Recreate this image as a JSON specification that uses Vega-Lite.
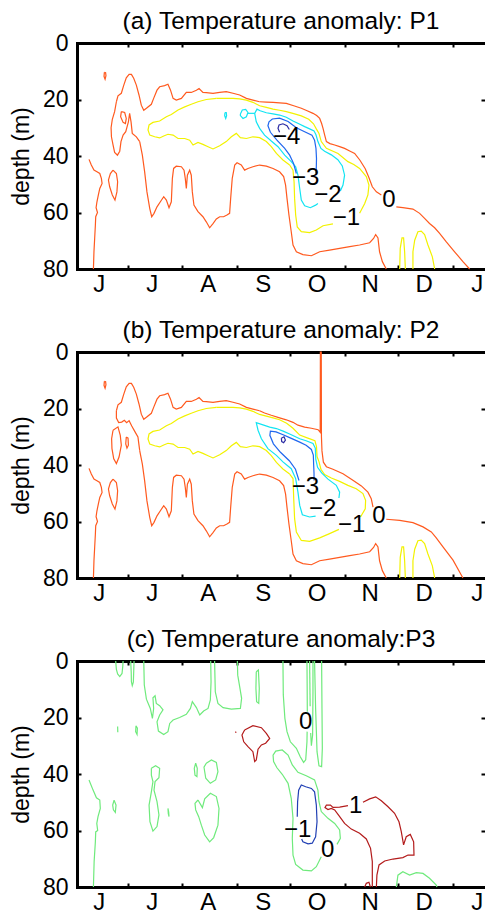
{
  "$schema": "https://vega.github.io/schema/vega-lite/v6.json",
  "padding": {"left": 10, "top": 8, "right": 0, "bottom": 0},
  "bounds": "flush",
  "spacing": 83,
  "config": {
    "font": "Liberation Sans",
    "view": {"stroke": null},
    "axis": {
      "grid": false,
      "domainColor": "#000",
      "domainWidth": 3,
      "domainCap": "square",
      "tickColor": "#000",
      "tickWidth": 2,
      "tickSize": -4,
      "labelColor": "#000",
      "labelFontSize": 23,
      "labelFlush": false,
      "labelOverlap": false,
      "labelBound": false,
      "titleColor": "#000",
      "titleFontSize": 23,
      "titleFontWeight": "normal"
    },
    "title": {"fontSize": 24.5, "fontWeight": "normal", "color": "#000", "anchor": "middle", "offset": -2}
  },
  "datasets": {
    "lines": [
      {"p":"ab","g":"L0","c":"0","x":8.1,"y":41.2},{"p":"ab","g":"L0","c":"0","x":9.4,"y":43.2},{"p":"ab","g":"L0","c":"0","x":10.9,"y":45.0},{"p":"ab","g":"L0","c":"0","x":12.6,"y":45.6},{"p":"ab","g":"L0","c":"0","x":14.2,"y":46.2},{"p":"ab","g":"L0","c":"0","x":15.1,"y":47.9},{"p":"ab","g":"L0","c":"0","x":15.5,"y":49.7},{"p":"ab","g":"L0","c":"0","x":14.2,"y":51.5},{"p":"ab","g":"L0","c":"0","x":13.4,"y":53.8},{"p":"ab","g":"L0","c":"0","x":12.6,"y":56.2},{"p":"ab","g":"L0","c":"0","x":12.1,"y":58.3},{"p":"ab","g":"L0","c":"0","x":12.9,"y":60.0},{"p":"ab","g":"L0","c":"0","x":11.9,"y":61.5},{"p":"ab","g":"L0","c":"0","x":11.7,"y":64.5},{"p":"ab","g":"L0","c":"0","x":11.3,"y":69.2},{"p":"ab","g":"L0","c":"0","x":10.9,"y":73.9},{"p":"ab","g":"L0","c":"0","x":10.6,"y":80},
      {"p":"ab","g":"L1","c":"0","x":16.8,"y":10.4},{"p":"ab","g":"L1","c":"0","x":17.5,"y":10.5},{"p":"ab","g":"L1","c":"0","x":17.7,"y":11.6},{"p":"ab","g":"L1","c":"0","x":17.2,"y":12.8},{"p":"ab","g":"L1","c":"0","x":16.6,"y":11.8},{"p":"ab","g":"L1","c":"0","x":16.8,"y":10.4},
      {"p":"ab","g":"L2","c":"0","x":21.7,"y":45.0},{"p":"ab","g":"L2","c":"0","x":23.6,"y":46.2},{"p":"ab","g":"L2","c":"0","x":24.3,"y":49.1},{"p":"ab","g":"L2","c":"0","x":23.9,"y":52.7},{"p":"ab","g":"L2","c":"0","x":22.8,"y":55.6},{"p":"ab","g":"L2","c":"0","x":21.3,"y":53.8},{"p":"ab","g":"L2","c":"0","x":19.8,"y":50.9},{"p":"ab","g":"L2","c":"0","x":19.1,"y":48.5},{"p":"ab","g":"L2","c":"0","x":20.2,"y":46.2},{"p":"ab","g":"L2","c":"0","x":21.7,"y":45.0},
      {"p":"ab","g":"Os1","c":"0","x":104.7,"y":20.8},{"p":"ab","g":"Os1","c":"0","x":100.9,"y":20.2},{"p":"ab","g":"Os1","c":"0","x":97.2,"y":19.6},{"p":"ab","g":"Os1","c":"0","x":93.4,"y":18.4},{"p":"ab","g":"Os1","c":"0","x":89.6,"y":17.8},{"p":"ab","g":"Os1","c":"0","x":85.8,"y":17.2},{"p":"ab","g":"Os1","c":"0","x":82.1,"y":17.5},{"p":"ab","g":"Os1","c":"0","x":78.3,"y":17.8},{"p":"ab","g":"Os1","c":"0","x":74.5,"y":17.6},{"p":"ab","g":"Os1","c":"0","x":72.6,"y":17.5},{"p":"ab","g":"Os1","c":"0","x":70.4,"y":16.1},{"p":"ab","g":"Os1","c":"0","x":68.9,"y":16.7},{"p":"ab","g":"Os1","c":"0","x":66.0,"y":17.5},{"p":"ab","g":"Os1","c":"0","x":63.2,"y":17.5},{"p":"ab","g":"Os1","c":"0","x":60.4,"y":19.6},{"p":"ab","g":"Os1","c":"0","x":57.5,"y":20.2},{"p":"ab","g":"Os1","c":"0","x":55.7,"y":19.6},{"p":"ab","g":"Os1","c":"0","x":54.2,"y":16.6},{"p":"ab","g":"Os1","c":"0","x":52.8,"y":14.6},{"p":"ab","g":"Os1","c":"0","x":50.9,"y":15.1},{"p":"ab","g":"Os1","c":"0","x":48.1,"y":15.5},{"p":"ab","g":"Os1","c":"0","x":46.6,"y":16.7},{"p":"ab","g":"Os1","c":"0","x":44.7,"y":19.6},{"p":"ab","g":"Os1","c":"0","x":43.4,"y":21.7},{"p":"ab","g":"Os1","c":"0","x":40.6,"y":23.1},{"p":"ab","g":"Os1","c":"0","x":39.1,"y":23.8},{"p":"ab","g":"Os1","c":"0","x":37.7,"y":22.0},{"p":"ab","g":"Os1","c":"0","x":36.4,"y":18.4},{"p":"ab","g":"Os1","c":"0","x":34.9,"y":14.9},{"p":"ab","g":"Os1","c":"0","x":33.4,"y":12.5},{"p":"ab","g":"Os1","c":"0","x":32.1,"y":11.1},{"p":"ab","g":"Os1","c":"0","x":30.8,"y":11.1},{"p":"ab","g":"Os1","c":"0","x":29.2,"y":12.3},{"p":"ab","g":"Os1","c":"0","x":27.7,"y":15.1},{"p":"ab","g":"Os1","c":"0","x":26.4,"y":17.8},{"p":"ab","g":"Os1","c":"0","x":24.5,"y":18.7},{"p":"ab","g":"Os1","c":"0","x":23.6,"y":20.8},
      {"p":"ab","g":"Os2","c":"0","x":36.8,"y":34.9},{"p":"ab","g":"Os2","c":"0","x":38.3,"y":39.7},{"p":"ab","g":"Os2","c":"0","x":39.6,"y":45.6},{"p":"ab","g":"Os2","c":"0","x":40.9,"y":52.7},{"p":"ab","g":"Os2","c":"0","x":42.5,"y":58.6},{"p":"ab","g":"Os2","c":"0","x":43.6,"y":61.5},{"p":"ab","g":"Os2","c":"0","x":44.9,"y":60.3},{"p":"ab","g":"Os2","c":"0","x":46.6,"y":58.0},{"p":"ab","g":"Os2","c":"0","x":48.5,"y":56.2},{"p":"ab","g":"Os2","c":"0","x":50.4,"y":54.4},{"p":"ab","g":"Os2","c":"0","x":51.9,"y":55.6},{"p":"ab","g":"Os2","c":"0","x":53.4,"y":58.3},{"p":"ab","g":"Os2","c":"0","x":54.7,"y":56.2},{"p":"ab","g":"Os2","c":"0","x":55.3,"y":47.9},{"p":"ab","g":"Os2","c":"0","x":56.0,"y":44.4},{"p":"ab","g":"Os2","c":"0","x":57.5,"y":43.6},{"p":"ab","g":"Os2","c":"0","x":60.4,"y":43.8},{"p":"ab","g":"Os2","c":"0","x":61.9,"y":45.0},{"p":"ab","g":"Os2","c":"0","x":62.6,"y":47.9},{"p":"ab","g":"Os2","c":"0","x":63.2,"y":51.5},{"p":"ab","g":"Os2","c":"0","x":63.8,"y":46.8},{"p":"ab","g":"Os2","c":"0","x":65.1,"y":45.0},{"p":"ab","g":"Os2","c":"0","x":66.0,"y":46.8},{"p":"ab","g":"Os2","c":"0","x":66.6,"y":52.7},{"p":"ab","g":"Os2","c":"0","x":67.5,"y":57.4},{"p":"ab","g":"Os2","c":"0","x":69.8,"y":59.7},{"p":"ab","g":"Os2","c":"0","x":72.6,"y":61.5},{"p":"ab","g":"Os2","c":"0","x":74.5,"y":63.3},{"p":"ab","g":"Os2","c":"0","x":76.4,"y":65.4},{"p":"ab","g":"Os2","c":"0","x":78.3,"y":63.9},{"p":"ab","g":"Os2","c":"0","x":80.2,"y":62.3},{"p":"ab","g":"Os2","c":"0","x":82.1,"y":61.5},{"p":"ab","g":"Os2","c":"0","x":84.3,"y":61.5},{"p":"ab","g":"Os2","c":"0","x":86.2,"y":60.9},{"p":"ab","g":"Os2","c":"0","x":87.7,"y":60.3},{"p":"ab","g":"Os2","c":"0","x":88.3,"y":55.0},{"p":"ab","g":"Os2","c":"0","x":89.2,"y":47.9},{"p":"ab","g":"Os2","c":"0","x":90.6,"y":43.2},{"p":"ab","g":"Os2","c":"0","x":91.9,"y":42.4},{"p":"ab","g":"Os2","c":"0","x":94.3,"y":43.2},{"p":"ab","g":"Os2","c":"0","x":96.2,"y":45.0},{"p":"ab","g":"Os2","c":"0","x":98.1,"y":44.4},{"p":"ab","g":"Os2","c":"0","x":100.9,"y":43.8},{"p":"ab","g":"Os2","c":"0","x":104.7,"y":43.2},{"p":"ab","g":"Os2","c":"0","x":108.5,"y":43.6},{"p":"ab","g":"Os2","c":"0","x":112.3,"y":44.4},{"p":"ab","g":"Os2","c":"0","x":116.0,"y":45.6},{"p":"ab","g":"Os2","c":"0","x":118.3,"y":47.3},{"p":"ab","g":"Os2","c":"0","x":119.4,"y":50.3},{"p":"ab","g":"Os2","c":"0","x":120.2,"y":55.0},{"p":"ab","g":"Os2","c":"0","x":121.3,"y":60.9},{"p":"ab","g":"Os2","c":"0","x":122.6,"y":66.8},{"p":"ab","g":"Os2","c":"0","x":123.6,"y":71.5},{"p":"ab","g":"Os2","c":"0","x":125.5,"y":73.9},{"p":"ab","g":"Os2","c":"0","x":129.2,"y":74.9},{"p":"ab","g":"Os2","c":"0","x":134.0,"y":75.3},{"p":"ab","g":"Os2","c":"0","x":138.7,"y":73.9},{"p":"ab","g":"Os2","c":"0","x":144.3,"y":73.3},{"p":"ab","g":"Os2","c":"0","x":150.0,"y":72.7},{"p":"ab","g":"Os2","c":"0","x":155.7,"y":72.1},{"p":"ab","g":"Os2","c":"0","x":161.3,"y":71.5},{"p":"ab","g":"Os2","c":"0","x":167.0,"y":70.7},{"p":"ab","g":"Os2","c":"0","x":169.2,"y":69.2},{"p":"ab","g":"Os2","c":"0","x":170.4,"y":67.8},{"p":"ab","g":"Os2","c":"0","x":171.7,"y":69.0},{"p":"ab","g":"Os2","c":"0","x":172.6,"y":73.9},{"p":"ab","g":"Os2","c":"0","x":174.2,"y":77.4},{"p":"ab","g":"Os2","c":"0","x":176.4,"y":80},
      {"p":"ab","g":"Ys","c":"-1","x":80.2,"y":19.6},{"p":"ab","g":"Ys","c":"-1","x":74.5,"y":20.0},{"p":"ab","g":"Ys","c":"-1","x":69.8,"y":20.8},{"p":"ab","g":"Ys","c":"-1","x":66.0,"y":21.7},{"p":"ab","g":"Ys","c":"-1","x":62.3,"y":22.6},{"p":"ab","g":"Ys","c":"-1","x":58.5,"y":23.7},{"p":"ab","g":"Ys","c":"-1","x":54.7,"y":25.3},{"p":"ab","g":"Ys","c":"-1","x":51.9,"y":26.1},{"p":"ab","g":"Ys","c":"-1","x":48.1,"y":27.6},{"p":"ab","g":"Ys","c":"-1","x":44.3,"y":28.1},{"p":"ab","g":"Ys","c":"-1","x":42.1,"y":29.0},{"p":"ab","g":"Ys","c":"-1","x":41.5,"y":30.8},{"p":"ab","g":"Ys","c":"-1","x":42.5,"y":32.6},{"p":"ab","g":"Ys","c":"-1","x":45.3,"y":33.2},{"p":"ab","g":"Ys","c":"-1","x":48.1,"y":33.6},{"p":"ab","g":"Ys","c":"-1","x":50.4,"y":32.9},{"p":"ab","g":"Ys","c":"-1","x":52.8,"y":32.3},{"p":"ab","g":"Ys","c":"-1","x":55.7,"y":32.6},{"p":"ab","g":"Ys","c":"-1","x":58.5,"y":33.8},{"p":"ab","g":"Ys","c":"-1","x":62.3,"y":33.8},{"p":"ab","g":"Ys","c":"-1","x":65.1,"y":34.4},{"p":"ab","g":"Ys","c":"-1","x":67.0,"y":36.1},{"p":"ab","g":"Ys","c":"-1","x":69.8,"y":35.2},{"p":"ab","g":"Ys","c":"-1","x":72.6,"y":35.9},{"p":"ab","g":"Ys","c":"-1","x":75.5,"y":36.7},{"p":"ab","g":"Ys","c":"-1","x":78.3,"y":37.5},{"p":"ab","g":"Ys","c":"-1","x":82.1,"y":36.4},{"p":"ab","g":"Ys","c":"-1","x":85.8,"y":34.9},{"p":"ab","g":"Ys","c":"-1","x":88.7,"y":33.2},{"p":"ab","g":"Ys","c":"-1","x":91.5,"y":32.0},{"p":"ab","g":"Ys","c":"-1","x":93.8,"y":33.5},{"p":"ab","g":"Ys","c":"-1","x":97.2,"y":33.8},{"p":"ab","g":"Ys","c":"-1","x":100.9,"y":33.2},{"p":"ab","g":"Ys","c":"-1","x":104.7,"y":33.5},{"p":"ab","g":"Ys","c":"-1","x":108.5,"y":34.9},{"p":"ab","g":"Ys","c":"-1","x":111.3,"y":36.7},{"p":"ab","g":"Ys","c":"-1","x":114.2,"y":39.1},{"p":"ab","g":"Ys","c":"-1","x":117.9,"y":41.4},{"p":"ab","g":"Ys","c":"-1","x":121.7,"y":43.2},
      {"p":"ab","g":"Y2","c":"-1","x":184.0,"y":80},{"p":"ab","g":"Y2","c":"-1","x":184.3,"y":72.7},{"p":"ab","g":"Y2","c":"-1","x":185.3,"y":69.0},{"p":"ab","g":"Y2","c":"-1","x":186.2,"y":69.0},{"p":"ab","g":"Y2","c":"-1","x":186.8,"y":73.9},{"p":"ab","g":"Y2","c":"-1","x":187.2,"y":80},
      {"p":"ab","g":"Y3","c":"-1","x":191.5,"y":80},{"p":"ab","g":"Y3","c":"-1","x":191.5,"y":73.9},{"p":"ab","g":"Y3","c":"-1","x":192.5,"y":69.8},{"p":"ab","g":"Y3","c":"-1","x":194.3,"y":66.8},{"p":"ab","g":"Y3","c":"-1","x":196.2,"y":66.6},{"p":"ab","g":"Y3","c":"-1","x":198.1,"y":67.8},{"p":"ab","g":"Y3","c":"-1","x":200.0,"y":71.5},{"p":"ab","g":"Y3","c":"-1","x":202.5,"y":75.7},{"p":"ab","g":"Y3","c":"-1","x":203.8,"y":80},

      {"p":"a","g":"aL","c":"0","x":26.4,"y":24.3},{"p":"a","g":"aL","c":"0","x":28.3,"y":24.6},{"p":"a","g":"aL","c":"0","x":29.2,"y":26.7},{"p":"a","g":"aL","c":"0","x":28.7,"y":28.5},{"p":"a","g":"aL","c":"0","x":27.4,"y":28.1},{"p":"a","g":"aL","c":"0","x":26.0,"y":26.1},{"p":"a","g":"aL","c":"0","x":26.4,"y":24.3},
      {"p":"a","g":"aLd","c":"0","x":23.6,"y":20.8},{"p":"a","g":"aLd","c":"0","x":22.6,"y":24.3},{"p":"a","g":"aLd","c":"0","x":21.3,"y":27.0},{"p":"a","g":"aLd","c":"0","x":20.6,"y":30.0},{"p":"a","g":"aLd","c":"0","x":20.8,"y":33.2},{"p":"a","g":"aLd","c":"0","x":21.7,"y":36.1},{"p":"a","g":"aLd","c":"0","x":22.6,"y":38.7},{"p":"a","g":"aLd","c":"0","x":24.2,"y":39.7},{"p":"a","g":"aLd","c":"0","x":25.5,"y":38.3},{"p":"a","g":"aLd","c":"0","x":26.2,"y":34.9},{"p":"a","g":"aLd","c":"0","x":27.4,"y":32.6},{"p":"a","g":"aLd","c":"0","x":28.9,"y":31.4},{"p":"a","g":"aLd","c":"0","x":30.4,"y":27.9},{"p":"a","g":"aLd","c":"0","x":31.1,"y":24.9},{"p":"a","g":"aLd","c":"0","x":31.9,"y":27.9},{"p":"a","g":"aLd","c":"0","x":32.6,"y":32.0},{"p":"a","g":"aLd","c":"0","x":34.9,"y":33.2},{"p":"a","g":"aLd","c":"0","x":36.8,"y":34.9},
      {"p":"a","g":"aO1","c":"0","x":104.7,"y":20.8},{"p":"a","g":"aO1","c":"0","x":108.5,"y":20.9},{"p":"a","g":"aO1","c":"0","x":112.3,"y":21.0},{"p":"a","g":"aO1","c":"0","x":116.0,"y":21.2},{"p":"a","g":"aO1","c":"0","x":119.8,"y":21.4},{"p":"a","g":"aO1","c":"0","x":124.0,"y":22.2},{"p":"a","g":"aO1","c":"0","x":128.3,"y":23.1},{"p":"a","g":"aO1","c":"0","x":131.6,"y":24.0},{"p":"a","g":"aO1","c":"0","x":134.9,"y":24.9},{"p":"a","g":"aO1","c":"0","x":137.0,"y":25.7},{"p":"a","g":"aO1","c":"0","x":138.7,"y":26.7},{"p":"a","g":"aO1","c":"0","x":139.8,"y":28.5},{"p":"a","g":"aO1","c":"0","x":140.6,"y":30.2},{"p":"a","g":"aO1","c":"0","x":141.5,"y":32.5},{"p":"a","g":"aO1","c":"0","x":142.5,"y":34.9},{"p":"a","g":"aO1","c":"0","x":144.5,"y":35.6},{"p":"a","g":"aO1","c":"0","x":147.2,"y":36.1},{"p":"a","g":"aO1","c":"0","x":150.0,"y":36.7},{"p":"a","g":"aO1","c":"0","x":152.8,"y":37.3},{"p":"a","g":"aO1","c":"0","x":155.7,"y":38.2},{"p":"a","g":"aO1","c":"0","x":158.5,"y":39.1},{"p":"a","g":"aO1","c":"0","x":161.5,"y":41.5},{"p":"a","g":"aO1","c":"0","x":164.5,"y":44.5},{"p":"a","g":"aO1","c":"0","x":166.5,"y":47.5},{"p":"a","g":"aO1","c":"0","x":168.5,"y":50.9},{"p":"a","g":"aO1","c":"0","x":170.8,"y":52.7},{"p":"a","g":"aO1","c":"0","x":173.6,"y":53.8},
      {"p":"a","g":"aO2","c":"0","x":182.1,"y":58.0},{"p":"a","g":"aO2","c":"0","x":185.8,"y":58.3},{"p":"a","g":"aO2","c":"0","x":191.5,"y":58.8},{"p":"a","g":"aO2","c":"0","x":195.3,"y":60.3},{"p":"a","g":"aO2","c":"0","x":198.1,"y":62.1},{"p":"a","g":"aO2","c":"0","x":200.9,"y":63.9},{"p":"a","g":"aO2","c":"0","x":203.8,"y":65.4},{"p":"a","g":"aO2","c":"0","x":206.6,"y":67.4},{"p":"a","g":"aO2","c":"0","x":210.4,"y":70.4},{"p":"a","g":"aO2","c":"0","x":215.1,"y":73.9},{"p":"a","g":"aO2","c":"0","x":219.8,"y":77.4},{"p":"a","g":"aO2","c":"0","x":223.6,"y":80},
      {"p":"a","g":"aY1","c":"-1","x":161.3,"y":60.3},{"p":"a","g":"aY1","c":"-1","x":164.2,"y":56.8},{"p":"a","g":"aY1","c":"-1","x":166.0,"y":53.8},{"p":"a","g":"aY1","c":"-1","x":166.6,"y":50.3},{"p":"a","g":"aY1","c":"-1","x":165.1,"y":47.3},{"p":"a","g":"aY1","c":"-1","x":161.3,"y":44.4},{"p":"a","g":"aY1","c":"-1","x":158.0,"y":43.0},{"p":"a","g":"aY1","c":"-1","x":154.7,"y":42.0},{"p":"a","g":"aY1","c":"-1","x":149.1,"y":39.1},{"p":"a","g":"aY1","c":"-1","x":142.5,"y":37.3},{"p":"a","g":"aY1","c":"-1","x":139.6,"y":34.9},{"p":"a","g":"aY1","c":"-1","x":138.3,"y":32.0},{"p":"a","g":"aY1","c":"-1","x":136.8,"y":30.4},{"p":"a","g":"aY1","c":"-1","x":135.2,"y":28.6},{"p":"a","g":"aY1","c":"-1","x":132.5,"y":27.0},{"p":"a","g":"aY1","c":"-1","x":128.3,"y":25.8},{"p":"a","g":"aY1","c":"-1","x":124.0,"y":25.0},{"p":"a","g":"aY1","c":"-1","x":119.8,"y":24.3},{"p":"a","g":"aY1","c":"-1","x":116.0,"y":23.8},{"p":"a","g":"aY1","c":"-1","x":112.3,"y":23.4},{"p":"a","g":"aY1","c":"-1","x":108.5,"y":22.8},{"p":"a","g":"aY1","c":"-1","x":104.7,"y":22.2},{"p":"a","g":"aY1","c":"-1","x":100.9,"y":21.0},{"p":"a","g":"aY1","c":"-1","x":97.2,"y":20.2},{"p":"a","g":"aY1","c":"-1","x":93.4,"y":19.8},{"p":"a","g":"aY1","c":"-1","x":89.6,"y":19.6},{"p":"a","g":"aY1","c":"-1","x":85.8,"y":19.6},{"p":"a","g":"aY1","c":"-1","x":80.2,"y":19.6},
      {"p":"a","g":"aY2","c":"-1","x":121.7,"y":43.2},{"p":"a","g":"aY2","c":"-1","x":123.6,"y":45.0},{"p":"a","g":"aY2","c":"-1","x":124.2,"y":49.1},{"p":"a","g":"aY2","c":"-1","x":124.5,"y":55.0},{"p":"a","g":"aY2","c":"-1","x":125.1,"y":60.9},{"p":"a","g":"aY2","c":"-1","x":126.0,"y":65.1},{"p":"a","g":"aY2","c":"-1","x":128.3,"y":66.8},{"p":"a","g":"aY2","c":"-1","x":133.0,"y":67.1},{"p":"a","g":"aY2","c":"-1","x":136.8,"y":66.2},{"p":"a","g":"aY2","c":"-1","x":140.6,"y":64.7},{"p":"a","g":"aY2","c":"-1","x":146.2,"y":64.0},
      {"p":"a","g":"aC1","c":"-2","x":85.1,"y":24.6},{"p":"a","g":"aC1","c":"-2","x":85.8,"y":24.6},{"p":"a","g":"aC1","c":"-2","x":86.0,"y":25.7},{"p":"a","g":"aC1","c":"-2","x":85.5,"y":26.7},{"p":"a","g":"aC1","c":"-2","x":84.9,"y":25.7},{"p":"a","g":"aC1","c":"-2","x":85.1,"y":24.6},
      {"p":"a","g":"aC2","c":"-2","x":93.8,"y":25.1},{"p":"a","g":"aC2","c":"-2","x":94.9,"y":23.7},{"p":"a","g":"aC2","c":"-2","x":96.8,"y":23.5},{"p":"a","g":"aC2","c":"-2","x":98.1,"y":24.6},{"p":"a","g":"aC2","c":"-2","x":97.2,"y":26.1},{"p":"a","g":"aC2","c":"-2","x":95.3,"y":26.7},{"p":"a","g":"aC2","c":"-2","x":93.8,"y":25.7},{"p":"a","g":"aC2","c":"-2","x":93.8,"y":25.1},
      {"p":"a","g":"aC3","c":"-2","x":98.1,"y":24.9},{"p":"a","g":"aC3","c":"-2","x":101.9,"y":24.9},
      {"p":"a","g":"aC4","c":"-2","x":150.4,"y":52.4},{"p":"a","g":"aC4","c":"-2","x":151.9,"y":50.3},{"p":"a","g":"aC4","c":"-2","x":152.8,"y":46.8},{"p":"a","g":"aC4","c":"-2","x":151.5,"y":43.5},{"p":"a","g":"aC4","c":"-2","x":149.0,"y":41.3},{"p":"a","g":"aC4","c":"-2","x":145.3,"y":39.6},{"p":"a","g":"aC4","c":"-2","x":141.5,"y":38.3},{"p":"a","g":"aC4","c":"-2","x":139.4,"y":37.3},{"p":"a","g":"aC4","c":"-2","x":137.7,"y":34.9},{"p":"a","g":"aC4","c":"-2","x":136.6,"y":32.5},{"p":"a","g":"aC4","c":"-2","x":135.5,"y":31.1},{"p":"a","g":"aC4","c":"-2","x":133.0,"y":30.4},{"p":"a","g":"aC4","c":"-2","x":130.2,"y":29.6},{"p":"a","g":"aC4","c":"-2","x":126.9,"y":28.6},{"p":"a","g":"aC4","c":"-2","x":123.6,"y":27.6},{"p":"a","g":"aC4","c":"-2","x":119.8,"y":26.3},{"p":"a","g":"aC4","c":"-2","x":116.0,"y":25.5},{"p":"a","g":"aC4","c":"-2","x":112.3,"y":25.1},{"p":"a","g":"aC4","c":"-2","x":108.5,"y":24.7},{"p":"a","g":"aC4","c":"-2","x":105.0,"y":24.0},{"p":"a","g":"aC4","c":"-2","x":103.2,"y":23.4},{"p":"a","g":"aC4","c":"-2","x":101.9,"y":24.9},{"p":"a","g":"aC4","c":"-2","x":102.8,"y":27.9},{"p":"a","g":"aC4","c":"-2","x":104.7,"y":30.2},{"p":"a","g":"aC4","c":"-2","x":107.5,"y":32.6},{"p":"a","g":"aC4","c":"-2","x":111.3,"y":34.7},{"p":"a","g":"aC4","c":"-2","x":115.1,"y":36.7},{"p":"a","g":"aC4","c":"-2","x":118.9,"y":39.7},{"p":"a","g":"aC4","c":"-2","x":122.6,"y":42.0},{"p":"a","g":"aC4","c":"-2","x":125.1,"y":43.8},{"p":"a","g":"aC4","c":"-2","x":126.4,"y":46.8},{"p":"a","g":"aC4","c":"-2","x":127.4,"y":51.5},{"p":"a","g":"aC4","c":"-2","x":128.3,"y":55.6},{"p":"a","g":"aC4","c":"-2","x":130.2,"y":57.6},{"p":"a","g":"aC4","c":"-2","x":133.4,"y":58.3},{"p":"a","g":"aC4","c":"-2","x":136.4,"y":57.4},{"p":"a","g":"aC4","c":"-2","x":137.7,"y":56.8},
      {"p":"a","g":"aB1","c":"-3","x":125.5,"y":46.2},{"p":"a","g":"aB1","c":"-3","x":123.9,"y":42.6},{"p":"a","g":"aB1","c":"-3","x":121.7,"y":39.7},{"p":"a","g":"aB1","c":"-3","x":118.9,"y":37.3},{"p":"a","g":"aB1","c":"-3","x":114.5,"y":34.4},{"p":"a","g":"aB1","c":"-3","x":110.8,"y":31.6},{"p":"a","g":"aB1","c":"-3","x":109.4,"y":29.3},{"p":"a","g":"aB1","c":"-3","x":110.0,"y":27.9},{"p":"a","g":"aB1","c":"-3","x":111.9,"y":26.9},{"p":"a","g":"aB1","c":"-3","x":116.0,"y":26.6},{"p":"a","g":"aB1","c":"-3","x":120.8,"y":27.8},{"p":"a","g":"aB1","c":"-3","x":125.5,"y":30.0},{"p":"a","g":"aB1","c":"-3","x":130.2,"y":31.4},{"p":"a","g":"aB1","c":"-3","x":134.3,"y":32.6},{"p":"a","g":"aB1","c":"-3","x":135.8,"y":34.4},{"p":"a","g":"aB1","c":"-3","x":136.6,"y":37.3},{"p":"a","g":"aB1","c":"-3","x":136.9,"y":40.9},{"p":"a","g":"aB1","c":"-3","x":136.8,"y":43.8},{"p":"a","g":"aB1","c":"-3","x":136.6,"y":46.2},
      {"p":"a","g":"aD1","c":"-4","x":116.0,"y":31.6},{"p":"a","g":"aD1","c":"-4","x":115.1,"y":30.2},{"p":"a","g":"aD1","c":"-4","x":115.7,"y":29.0},{"p":"a","g":"aD1","c":"-4","x":117.9,"y":28.6},{"p":"a","g":"aD1","c":"-4","x":120.2,"y":29.3},{"p":"a","g":"aD1","c":"-4","x":121.5,"y":30.6},

      {"p":"b","g":"bL1","c":"0","x":21.7,"y":27.7},{"p":"b","g":"bL1","c":"0","x":24.5,"y":26.5},{"p":"b","g":"bL1","c":"0","x":25.8,"y":29.5},{"p":"b","g":"bL1","c":"0","x":26.4,"y":33.0},{"p":"b","g":"bL1","c":"0","x":25.1,"y":37.2},{"p":"b","g":"bL1","c":"0","x":23.6,"y":39.5},{"p":"b","g":"bL1","c":"0","x":22.1,"y":37.8},{"p":"b","g":"bL1","c":"0","x":21.1,"y":34.2},{"p":"b","g":"bL1","c":"0","x":20.9,"y":30.7},{"p":"b","g":"bL1","c":"0","x":21.7,"y":27.7},
      {"p":"b","g":"bL2","c":"0","x":29.2,"y":30.1},{"p":"b","g":"bL2","c":"0","x":30.2,"y":30.5},{"p":"b","g":"bL2","c":"0","x":30.4,"y":33.0},{"p":"b","g":"bL2","c":"0","x":29.6,"y":34.0},{"p":"b","g":"bL2","c":"0","x":28.9,"y":32.5},{"p":"b","g":"bL2","c":"0","x":29.2,"y":30.1},
      {"p":"b","g":"bLd","c":"0","x":23.6,"y":20.8},{"p":"b","g":"bLd","c":"0","x":23.6,"y":23.4},{"p":"b","g":"bLd","c":"0","x":24.9,"y":25.0},{"p":"b","g":"bLd","c":"0","x":26.6,"y":24.8},{"p":"b","g":"bLd","c":"0","x":28.1,"y":24.2},{"p":"b","g":"bLd","c":"0","x":29.4,"y":25.0},{"p":"b","g":"bLd","c":"0","x":30.8,"y":24.3},{"p":"b","g":"bLd","c":"0","x":32.3,"y":26.2},{"p":"b","g":"bLd","c":"0","x":34.0,"y":28.1},{"p":"b","g":"bLd","c":"0","x":35.8,"y":30.1},{"p":"b","g":"bLd","c":"0","x":36.8,"y":34.9},
      {"p":"b","g":"bO1","c":"0","x":104.7,"y":20.8},{"p":"b","g":"bO1","c":"0","x":107.5,"y":21.6},{"p":"b","g":"bO1","c":"0","x":111.3,"y":22.4},{"p":"b","g":"bO1","c":"0","x":116.0,"y":23.3},{"p":"b","g":"bO1","c":"0","x":119.8,"y":24.0},{"p":"b","g":"bO1","c":"0","x":123.6,"y":24.9},{"p":"b","g":"bO1","c":"0","x":126.4,"y":25.9},{"p":"b","g":"bO1","c":"0","x":130.2,"y":26.6},{"p":"b","g":"bO1","c":"0","x":134.0,"y":27.0},{"p":"b","g":"bO1","c":"0","x":137.8,"y":27.5},{"p":"b","g":"bO1","c":"0","x":139.0,"y":28.4},{"p":"b","g":"bO1","c":"0","x":139.1,"y":0},{"p":"b","g":"bO1","c":"0","x":139.6,"y":0},{"p":"b","g":"bO1","c":"0","x":139.7,"y":30.0},{"p":"b","g":"bO1","c":"0","x":140.0,"y":35.0},{"p":"b","g":"bO1","c":"0","x":140.8,"y":39.0},{"p":"b","g":"bO1","c":"0","x":142.5,"y":40.6},{"p":"b","g":"bO1","c":"0","x":146.2,"y":41.5},{"p":"b","g":"bO1","c":"0","x":151.9,"y":43.1},{"p":"b","g":"bO1","c":"0","x":157.5,"y":45.4},{"p":"b","g":"bO1","c":"0","x":162.3,"y":47.4},{"p":"b","g":"bO1","c":"0","x":166.0,"y":49.6},{"p":"b","g":"bO1","c":"0","x":167.9,"y":51.9},{"p":"b","g":"bO1","c":"0","x":168.9,"y":54.9},
      {"p":"b","g":"bO2","c":"0","x":176.4,"y":59.2},{"p":"b","g":"bO2","c":"0","x":184.0,"y":59.6},{"p":"b","g":"bO2","c":"0","x":191.5,"y":60.4},{"p":"b","g":"bO2","c":"0","x":197.2,"y":61.9},{"p":"b","g":"bO2","c":"0","x":201.9,"y":63.7},{"p":"b","g":"bO2","c":"0","x":204.7,"y":65.8},{"p":"b","g":"bO2","c":"0","x":208.5,"y":69.0},{"p":"b","g":"bO2","c":"0","x":214.2,"y":73.7},{"p":"b","g":"bO2","c":"0","x":219.8,"y":80},
      {"p":"b","g":"bY1","c":"-1","x":161.8,"y":58.4},{"p":"b","g":"bY1","c":"-1","x":164.5,"y":55.5},{"p":"b","g":"bY1","c":"-1","x":164.7,"y":52.5},{"p":"b","g":"bY1","c":"-1","x":163.2,"y":50.1},{"p":"b","g":"bY1","c":"-1","x":159.4,"y":48.4},{"p":"b","g":"bY1","c":"-1","x":154.7,"y":47.2},{"p":"b","g":"bY1","c":"-1","x":150.0,"y":45.8},{"p":"b","g":"bY1","c":"-1","x":145.3,"y":44.6},{"p":"b","g":"bY1","c":"-1","x":141.5,"y":43.4},{"p":"b","g":"bY1","c":"-1","x":139.4,"y":41.5},{"p":"b","g":"bY1","c":"-1","x":138.3,"y":38.8},{"p":"b","g":"bY1","c":"-1","x":137.2,"y":37.0},{"p":"b","g":"bY1","c":"-1","x":136.9,"y":33.5},{"p":"b","g":"bY1","c":"-1","x":136.0,"y":31.4},{"p":"b","g":"bY1","c":"-1","x":132.0,"y":30.5},{"p":"b","g":"bY1","c":"-1","x":127.4,"y":29.4},{"p":"b","g":"bY1","c":"-1","x":123.6,"y":27.0},{"p":"b","g":"bY1","c":"-1","x":120.0,"y":25.2},{"p":"b","g":"bY1","c":"-1","x":116.0,"y":24.0},{"p":"b","g":"bY1","c":"-1","x":112.3,"y":23.3},{"p":"b","g":"bY1","c":"-1","x":108.5,"y":22.7},{"p":"b","g":"bY1","c":"-1","x":104.7,"y":22.1},{"p":"b","g":"bY1","c":"-1","x":100.9,"y":21.0},{"p":"b","g":"bY1","c":"-1","x":97.2,"y":20.2},{"p":"b","g":"bY1","c":"-1","x":93.4,"y":19.8},{"p":"b","g":"bY1","c":"-1","x":89.6,"y":19.6},{"p":"b","g":"bY1","c":"-1","x":85.8,"y":19.6},{"p":"b","g":"bY1","c":"-1","x":80.2,"y":19.6},
      {"p":"b","g":"bY2","c":"-1","x":121.7,"y":43.2},{"p":"b","g":"bY2","c":"-1","x":123.6,"y":44.8},{"p":"b","g":"bY2","c":"-1","x":124.0,"y":51.9},{"p":"b","g":"bY2","c":"-1","x":124.5,"y":59.0},{"p":"b","g":"bY2","c":"-1","x":125.5,"y":63.7},{"p":"b","g":"bY2","c":"-1","x":128.3,"y":66.7},{"p":"b","g":"bY2","c":"-1","x":133.0,"y":67.0},{"p":"b","g":"bY2","c":"-1","x":138.7,"y":65.8},{"p":"b","g":"bY2","c":"-1","x":144.3,"y":64.3},{"p":"b","g":"bY2","c":"-1","x":149.6,"y":62.8},
      {"p":"b","g":"bC1","c":"-2","x":136.4,"y":58.1},{"p":"b","g":"bC1","c":"-2","x":133.0,"y":58.4},{"p":"b","g":"bC1","c":"-2","x":128.9,"y":57.6},{"p":"b","g":"bC1","c":"-2","x":127.4,"y":54.3},{"p":"b","g":"bC1","c":"-2","x":126.4,"y":49.6},{"p":"b","g":"bC1","c":"-2","x":125.1,"y":44.8},{"p":"b","g":"bC1","c":"-2","x":122.6,"y":41.3},{"p":"b","g":"bC1","c":"-2","x":117.9,"y":38.9},{"p":"b","g":"bC1","c":"-2","x":114.2,"y":36.6},{"p":"b","g":"bC1","c":"-2","x":109.4,"y":34.2},{"p":"b","g":"bC1","c":"-2","x":105.7,"y":30.7},{"p":"b","g":"bC1","c":"-2","x":103.8,"y":27.7},{"p":"b","g":"bC1","c":"-2","x":102.8,"y":25.0},{"p":"b","g":"bC1","c":"-2","x":106.6,"y":25.8},{"p":"b","g":"bC1","c":"-2","x":110.4,"y":26.6},{"p":"b","g":"bC1","c":"-2","x":114.2,"y":27.1},{"p":"b","g":"bC1","c":"-2","x":118.0,"y":28.0},{"p":"b","g":"bC1","c":"-2","x":121.7,"y":29.0},{"p":"b","g":"bC1","c":"-2","x":127.4,"y":30.7},{"p":"b","g":"bC1","c":"-2","x":131.0,"y":31.4},{"p":"b","g":"bC1","c":"-2","x":134.9,"y":32.4},{"p":"b","g":"bC1","c":"-2","x":136.2,"y":34.0},{"p":"b","g":"bC1","c":"-2","x":136.5,"y":38.0},{"p":"b","g":"bC1","c":"-2","x":137.5,"y":40.8},{"p":"b","g":"bC1","c":"-2","x":139.8,"y":42.8},{"p":"b","g":"bC1","c":"-2","x":143.4,"y":45.0},{"p":"b","g":"bC1","c":"-2","x":148.1,"y":47.2},{"p":"b","g":"bC1","c":"-2","x":150.0,"y":49.6},{"p":"b","g":"bC1","c":"-2","x":149.6,"y":51.7},
      {"p":"b","g":"bB1","c":"-3","x":135.5,"y":45.5},{"p":"b","g":"bB1","c":"-3","x":135.5,"y":43.0},{"p":"b","g":"bB1","c":"-3","x":135.3,"y":40.0},{"p":"b","g":"bB1","c":"-3","x":135.1,"y":36.5},{"p":"b","g":"bB1","c":"-3","x":134.0,"y":34.5},{"p":"b","g":"bB1","c":"-3","x":131.0,"y":33.0},{"p":"b","g":"bB1","c":"-3","x":127.4,"y":31.9},{"p":"b","g":"bB1","c":"-3","x":122.0,"y":30.4},{"p":"b","g":"bB1","c":"-3","x":118.0,"y":29.3},{"p":"b","g":"bB1","c":"-3","x":114.0,"y":28.3},{"p":"b","g":"bB1","c":"-3","x":110.8,"y":28.0},{"p":"b","g":"bB1","c":"-3","x":110.5,"y":29.5},{"p":"b","g":"bB1","c":"-3","x":112.5,"y":32.5},{"p":"b","g":"bB1","c":"-3","x":116.5,"y":35.5},{"p":"b","g":"bB1","c":"-3","x":121.5,"y":38.5},{"p":"b","g":"bB1","c":"-3","x":125.0,"y":41.5},{"p":"b","g":"bB1","c":"-3","x":126.5,"y":44.5},{"p":"b","g":"bB1","c":"-3","x":127.0,"y":45.5},
      {"p":"b","g":"bD1","c":"-4","x":117.0,"y":30.5},{"p":"b","g":"bD1","c":"-4","x":118.5,"y":30.0},{"p":"b","g":"bD1","c":"-4","x":119.3,"y":31.2},{"p":"b","g":"bD1","c":"-4","x":118.3,"y":32.1},{"p":"b","g":"bD1","c":"-4","x":117.2,"y":31.7},{"p":"b","g":"bD1","c":"-4","x":117.0,"y":30.5},

      {"p":"c","g":"c01","c":"c0","x":8.1,"y":42.1},{"p":"c","g":"c01","c":"c0","x":10.4,"y":45.7},{"p":"c","g":"c01","c":"c0","x":12.3,"y":48.4},{"p":"c","g":"c01","c":"c0","x":14.2,"y":49.2},{"p":"c","g":"c01","c":"c0","x":14.5,"y":52.2},{"p":"c","g":"c01","c":"c0","x":13.2,"y":55.1},{"p":"c","g":"c01","c":"c0","x":12.5,"y":57.5},{"p":"c","g":"c01","c":"c0","x":13.0,"y":60.0},{"p":"c","g":"c01","c":"c0","x":11.9,"y":60.5},{"p":"c","g":"c01","c":"c0","x":11.7,"y":64.0},{"p":"c","g":"c01","c":"c0","x":11.0,"y":71.0},{"p":"c","g":"c01","c":"c0","x":10.6,"y":80},
      {"p":"c","g":"c02","c":"c0","x":22.3,"y":49.3},{"p":"c","g":"c02","c":"c0","x":23.4,"y":51.0},{"p":"c","g":"c02","c":"c0","x":23.0,"y":53.6},{"p":"c","g":"c02","c":"c0","x":21.9,"y":52.7},{"p":"c","g":"c02","c":"c0","x":21.5,"y":51.0},{"p":"c","g":"c02","c":"c0","x":22.3,"y":49.3},
      {"p":"c","g":"c03","c":"c0","x":23.2,"y":0},{"p":"c","g":"c03","c":"c0","x":23.6,"y":3.0},{"p":"c","g":"c03","c":"c0","x":24.3,"y":4.6},{"p":"c","g":"c03","c":"c0","x":25.5,"y":5.5},{"p":"c","g":"c03","c":"c0","x":26.8,"y":4.4},{"p":"c","g":"c03","c":"c0","x":27.2,"y":2.0},{"p":"c","g":"c03","c":"c0","x":27.4,"y":0},
      {"p":"c","g":"c04","c":"c0","x":31.7,"y":0},{"p":"c","g":"c04","c":"c0","x":32.0,"y":4.0},{"p":"c","g":"c04","c":"c0","x":32.1,"y":7.3},{"p":"c","g":"c04","c":"c0","x":32.6,"y":8.7},{"p":"c","g":"c04","c":"c0","x":33.2,"y":7.5},{"p":"c","g":"c04","c":"c0","x":33.4,"y":4.0},{"p":"c","g":"c04","c":"c0","x":33.6,"y":0},
      {"p":"c","g":"c05","c":"c0","x":39.1,"y":0},{"p":"c","g":"c05","c":"c0","x":39.4,"y":8.5},{"p":"c","g":"c05","c":"c0","x":40.6,"y":13.5},{"p":"c","g":"c05","c":"c0","x":42.8,"y":16.8},{"p":"c","g":"c05","c":"c0","x":44.0,"y":20.3},{"p":"c","g":"c05","c":"c0","x":44.7,"y":16.8},{"p":"c","g":"c05","c":"c0","x":44.3,"y":13.0},{"p":"c","g":"c05","c":"c0","x":45.5,"y":12.3},{"p":"c","g":"c05","c":"c0","x":46.2,"y":15.0},{"p":"c","g":"c05","c":"c0","x":48.1,"y":15.8},{"p":"c","g":"c05","c":"c0","x":50.0,"y":17.3},{"p":"c","g":"c05","c":"c0","x":48.1,"y":19.1},{"p":"c","g":"c05","c":"c0","x":46.6,"y":21.5},{"p":"c","g":"c05","c":"c0","x":47.4,"y":24.8},{"p":"c","g":"c05","c":"c0","x":50.4,"y":26.0},{"p":"c","g":"c05","c":"c0","x":52.8,"y":25.0},{"p":"c","g":"c05","c":"c0","x":53.8,"y":22.1},{"p":"c","g":"c05","c":"c0","x":55.7,"y":20.9},{"p":"c","g":"c05","c":"c0","x":59.4,"y":20.0},{"p":"c","g":"c05","c":"c0","x":63.2,"y":18.9},{"p":"c","g":"c05","c":"c0","x":65.5,"y":16.8},{"p":"c","g":"c05","c":"c0","x":66.6,"y":14.4},{"p":"c","g":"c05","c":"c0","x":68.9,"y":16.5},{"p":"c","g":"c05","c":"c0","x":70.8,"y":19.1},{"p":"c","g":"c05","c":"c0","x":73.0,"y":17.7},{"p":"c","g":"c05","c":"c0","x":75.5,"y":16.8},{"p":"c","g":"c05","c":"c0","x":76.8,"y":13.8},{"p":"c","g":"c05","c":"c0","x":77.2,"y":7.3},{"p":"c","g":"c05","c":"c0","x":77.0,"y":0},
      {"p":"c","g":"c06","c":"c0","x":79.2,"y":0},{"p":"c","g":"c06","c":"c0","x":79.6,"y":10.9},{"p":"c","g":"c06","c":"c0","x":81.1,"y":15.0},{"p":"c","g":"c06","c":"c0","x":84.0,"y":16.5},{"p":"c","g":"c06","c":"c0","x":88.7,"y":17.0},{"p":"c","g":"c06","c":"c0","x":93.8,"y":16.8},{"p":"c","g":"c06","c":"c0","x":94.5,"y":13.2},{"p":"c","g":"c06","c":"c0","x":93.4,"y":9.1},{"p":"c","g":"c06","c":"c0","x":92.3,"y":5.0},{"p":"c","g":"c06","c":"c0","x":92.1,"y":0},
      {"p":"c","g":"c07","c":"c0","x":102.8,"y":3.8},{"p":"c","g":"c07","c":"c0","x":104.0,"y":3.2},{"p":"c","g":"c07","c":"c0","x":104.5,"y":9.7},{"p":"c","g":"c07","c":"c0","x":104.2,"y":15.0},{"p":"c","g":"c07","c":"c0","x":103.0,"y":14.4},{"p":"c","g":"c07","c":"c0","x":102.6,"y":9.7},{"p":"c","g":"c07","c":"c0","x":102.8,"y":3.8},
      {"p":"c","g":"c08","c":"c0","x":24.3,"y":23.2},{"p":"c","g":"c08","c":"c0","x":24.4,"y":25.2},
      {"p":"c","g":"c09","c":"c0","x":34.7,"y":22.9},{"p":"c","g":"c09","c":"c0","x":35.5,"y":23.8},{"p":"c","g":"c09","c":"c0","x":35.3,"y":26.0},{"p":"c","g":"c09","c":"c0","x":34.5,"y":25.0},{"p":"c","g":"c09","c":"c0","x":34.7,"y":22.9},
      {"p":"c","g":"c10","c":"c0","x":117.9,"y":0},{"p":"c","g":"c10","c":"c0","x":118.1,"y":12.0},{"p":"c","g":"c10","c":"c0","x":119.0,"y":20.3},{"p":"c","g":"c10","c":"c0","x":120.2,"y":25.0},{"p":"c","g":"c10","c":"c0","x":122.1,"y":28.6},{"p":"c","g":"c10","c":"c0","x":125.5,"y":30.9},{"p":"c","g":"c10","c":"c0","x":127.7,"y":33.9},{"p":"c","g":"c10","c":"c0","x":129.6,"y":35.9},{"p":"c","g":"c10","c":"c0","x":130.8,"y":35.0},{"p":"c","g":"c10","c":"c0","x":131.5,"y":28.6},{"p":"c","g":"c10","c":"c0","x":131.6,"y":25.0},
      {"p":"c","g":"c10b","c":"c0","x":131.7,"y":18.0},{"p":"c","g":"c10b","c":"c0","x":131.6,"y":8.0},{"p":"c","g":"c10b","c":"c0","x":131.5,"y":0},
      {"p":"c","g":"c11","c":"c0","x":133.0,"y":0},{"p":"c","g":"c11","c":"c0","x":133.3,"y":16.0},
      {"p":"c","g":"c11b","c":"c0","x":133.6,"y":25.5},{"p":"c","g":"c11b","c":"c0","x":134.0,"y":30.0},{"p":"c","g":"c11b","c":"c0","x":134.7,"y":26.2},{"p":"c","g":"c11b","c":"c0","x":134.9,"y":10.9},{"p":"c","g":"c11b","c":"c0","x":134.9,"y":0},
      {"p":"c","g":"c12","c":"c0","x":135.8,"y":0},{"p":"c","g":"c12","c":"c0","x":136.4,"y":16.8},{"p":"c","g":"c12","c":"c0","x":137.2,"y":32.1},{"p":"c","g":"c12","c":"c0","x":138.3,"y":37.1},{"p":"c","g":"c12","c":"c0","x":139.8,"y":37.4},{"p":"c","g":"c12","c":"c0","x":140.2,"y":30.9},{"p":"c","g":"c12","c":"c0","x":140.0,"y":16.8},{"p":"c","g":"c12","c":"c0","x":139.8,"y":0},
      {"p":"c","g":"c13","c":"c0","x":139.6,"y":69.3},{"p":"c","g":"c13","c":"c0","x":136.8,"y":72.8},{"p":"c","g":"c13","c":"c0","x":134.0,"y":74.3},{"p":"c","g":"c13","c":"c0","x":129.2,"y":74.0},{"p":"c","g":"c13","c":"c0","x":125.1,"y":72.0},{"p":"c","g":"c13","c":"c0","x":123.6,"y":68.7},{"p":"c","g":"c13","c":"c0","x":123.2,"y":62.8},{"p":"c","g":"c13","c":"c0","x":123.6,"y":55.7},{"p":"c","g":"c13","c":"c0","x":122.6,"y":48.6},{"p":"c","g":"c13","c":"c0","x":120.8,"y":43.3},{"p":"c","g":"c13","c":"c0","x":117.5,"y":40.1},{"p":"c","g":"c13","c":"c0","x":114.5,"y":37.8},{"p":"c","g":"c13","c":"c0","x":112.6,"y":35.6},{"p":"c","g":"c13","c":"c0","x":112.3,"y":33.3},{"p":"c","g":"c13","c":"c0","x":113.8,"y":31.9},{"p":"c","g":"c13","c":"c0","x":117.5,"y":31.5},{"p":"c","g":"c13","c":"c0","x":120.8,"y":33.3},{"p":"c","g":"c13","c":"c0","x":123.2,"y":36.8},{"p":"c","g":"c13","c":"c0","x":126.4,"y":39.4},{"p":"c","g":"c13","c":"c0","x":131.1,"y":40.6},{"p":"c","g":"c13","c":"c0","x":135.8,"y":42.1},{"p":"c","g":"c13","c":"c0","x":137.7,"y":45.7},{"p":"c","g":"c13","c":"c0","x":138.3,"y":49.8},{"p":"c","g":"c13","c":"c0","x":139.6,"y":53.3},{"p":"c","g":"c13","c":"c0","x":143.4,"y":55.7},{"p":"c","g":"c13","c":"c0","x":147.2,"y":57.5},{"p":"c","g":"c13","c":"c0","x":150.0,"y":59.8},{"p":"c","g":"c13","c":"c0","x":150.4,"y":62.8},{"p":"c","g":"c13","c":"c0","x":148.5,"y":64.9},
      {"p":"c","g":"c14","c":"c0","x":43.4,"y":38.0},{"p":"c","g":"c14","c":"c0","x":45.8,"y":37.1},{"p":"c","g":"c14","c":"c0","x":48.1,"y":38.0},{"p":"c","g":"c14","c":"c0","x":47.7,"y":41.3},{"p":"c","g":"c14","c":"c0","x":45.5,"y":42.7},{"p":"c","g":"c14","c":"c0","x":44.9,"y":45.7},{"p":"c","g":"c14","c":"c0","x":46.6,"y":49.8},{"p":"c","g":"c14","c":"c0","x":47.7,"y":54.5},{"p":"c","g":"c14","c":"c0","x":46.6,"y":58.6},{"p":"c","g":"c14","c":"c0","x":44.3,"y":60.2},{"p":"c","g":"c14","c":"c0","x":42.6,"y":56.9},{"p":"c","g":"c14","c":"c0","x":42.1,"y":51.0},{"p":"c","g":"c14","c":"c0","x":43.4,"y":46.3},{"p":"c","g":"c14","c":"c0","x":44.3,"y":42.7},{"p":"c","g":"c14","c":"c0","x":43.4,"y":40.4},{"p":"c","g":"c14","c":"c0","x":43.4,"y":38.0},
      {"p":"c","g":"c15","c":"c0","x":52.8,"y":52.2},{"p":"c","g":"c15","c":"c0","x":53.2,"y":53.5},{"p":"c","g":"c15","c":"c0","x":53.4,"y":55.1},{"p":"c","g":"c15","c":"c0","x":53.0,"y":54.0},{"p":"c","g":"c15","c":"c0","x":52.8,"y":52.2},
      {"p":"c","g":"c16","c":"c0","x":68.5,"y":36.2},{"p":"c","g":"c16","c":"c0","x":69.4,"y":38.0},{"p":"c","g":"c16","c":"c0","x":69.2,"y":40.9},{"p":"c","g":"c16","c":"c0","x":68.1,"y":40.4},{"p":"c","g":"c16","c":"c0","x":67.7,"y":38.0},{"p":"c","g":"c16","c":"c0","x":68.5,"y":36.2},
      {"p":"c","g":"c17","c":"c0","x":74.5,"y":36.2},{"p":"c","g":"c17","c":"c0","x":77.4,"y":35.0},{"p":"c","g":"c17","c":"c0","x":80.2,"y":35.9},{"p":"c","g":"c17","c":"c0","x":81.1,"y":39.2},{"p":"c","g":"c17","c":"c0","x":79.8,"y":42.1},{"p":"c","g":"c17","c":"c0","x":76.8,"y":43.3},{"p":"c","g":"c17","c":"c0","x":74.2,"y":41.5},{"p":"c","g":"c17","c":"c0","x":73.2,"y":37.6},{"p":"c","g":"c17","c":"c0","x":74.5,"y":36.2},
      {"p":"c","g":"c18","c":"c0","x":69.8,"y":49.2},{"p":"c","g":"c18","c":"c0","x":72.3,"y":51.9},{"p":"c","g":"c18","c":"c0","x":73.6,"y":48.8},{"p":"c","g":"c18","c":"c0","x":76.8,"y":46.8},{"p":"c","g":"c18","c":"c0","x":80.2,"y":48.0},{"p":"c","g":"c18","c":"c0","x":81.7,"y":52.2},{"p":"c","g":"c18","c":"c0","x":81.1,"y":58.1},{"p":"c","g":"c18","c":"c0","x":78.7,"y":62.5},{"p":"c","g":"c18","c":"c0","x":76.4,"y":64.0},{"p":"c","g":"c18","c":"c0","x":73.6,"y":61.6},{"p":"c","g":"c18","c":"c0","x":71.7,"y":58.1},{"p":"c","g":"c18","c":"c0","x":70.2,"y":55.1},{"p":"c","g":"c18","c":"c0","x":68.5,"y":52.7},{"p":"c","g":"c18","c":"c0","x":68.1,"y":50.4},{"p":"c","g":"c18","c":"c0","x":69.8,"y":49.2},
      {"p":"c","g":"c19","c":"c0","x":182.1,"y":80},{"p":"c","g":"c19","c":"c0","x":183.0,"y":75.8},{"p":"c","g":"c19","c":"c0","x":185.8,"y":74.6},{"p":"c","g":"c19","c":"c0","x":189.6,"y":75.8},{"p":"c","g":"c19","c":"c0","x":193.4,"y":74.9},{"p":"c","g":"c19","c":"c0","x":197.2,"y":75.2},{"p":"c","g":"c19","c":"c0","x":200.9,"y":76.9},{"p":"c","g":"c19","c":"c0","x":204.7,"y":79.3},{"p":"c","g":"c19","c":"c0","x":205.1,"y":80},
      {"p":"c","g":"c21","c":"c1","x":96.2,"y":24.4},{"p":"c","g":"c21","c":"c1","x":100.9,"y":22.9},{"p":"c","g":"c21","c":"c1","x":105.7,"y":23.6},{"p":"c","g":"c21","c":"c1","x":108.5,"y":25.6},{"p":"c","g":"c21","c":"c1","x":110.4,"y":27.4},{"p":"c","g":"c21","c":"c1","x":108.1,"y":29.1},{"p":"c","g":"c21","c":"c1","x":105.7,"y":29.7},{"p":"c","g":"c21","c":"c1","x":103.8,"y":31.2},{"p":"c","g":"c21","c":"c1","x":102.8,"y":35.0},{"p":"c","g":"c21","c":"c1","x":101.9,"y":35.6},{"p":"c","g":"c21","c":"c1","x":100.9,"y":32.1},{"p":"c","g":"c21","c":"c1","x":98.1,"y":30.3},{"p":"c","g":"c21","c":"c1","x":95.7,"y":28.6},{"p":"c","g":"c21","c":"c1","x":94.7,"y":26.2},{"p":"c","g":"c21","c":"c1","x":96.2,"y":24.4},
      {"p":"c","g":"c22","c":"c1","x":91.0,"y":25.0},{"p":"c","g":"c22","c":"c1","x":91.4,"y":25.4},
      {"p":"c","g":"c23","c":"c1","x":168.5,"y":80},{"p":"c","g":"c23","c":"c1","x":168.5,"y":71.0},{"p":"c","g":"c23","c":"c1","x":167.5,"y":66.3},{"p":"c","g":"c23","c":"c1","x":165.1,"y":63.0},{"p":"c","g":"c23","c":"c1","x":161.3,"y":61.0},{"p":"c","g":"c23","c":"c1","x":156.6,"y":59.5},{"p":"c","g":"c23","c":"c1","x":152.8,"y":57.5},{"p":"c","g":"c23","c":"c1","x":149.6,"y":54.7},{"p":"c","g":"c23","c":"c1","x":147.2,"y":52.7},{"p":"c","g":"c23","c":"c1","x":145.3,"y":52.2},{"p":"c","g":"c23","c":"c1","x":143.4,"y":52.6},{"p":"c","g":"c23","c":"c1","x":141.7,"y":51.9},{"p":"c","g":"c23","c":"c1","x":142.5,"y":51.0},{"p":"c","g":"c23","c":"c1","x":144.8,"y":51.0},{"p":"c","g":"c23","c":"c1","x":146.2,"y":51.8},{"p":"c","g":"c23","c":"c1","x":150.0,"y":51.7},{"p":"c","g":"c23","c":"c1","x":154.7,"y":51.2},
      {"p":"c","g":"c24","c":"c1","x":163.2,"y":50.0},{"p":"c","g":"c24","c":"c1","x":167.0,"y":48.8},{"p":"c","g":"c24","c":"c1","x":170.4,"y":48.1},{"p":"c","g":"c24","c":"c1","x":173.6,"y":49.5},{"p":"c","g":"c24","c":"c1","x":177.4,"y":51.6},{"p":"c","g":"c24","c":"c1","x":181.1,"y":53.9},{"p":"c","g":"c24","c":"c1","x":183.6,"y":56.9},{"p":"c","g":"c24","c":"c1","x":184.9,"y":60.4},{"p":"c","g":"c24","c":"c1","x":186.2,"y":65.1},{"p":"c","g":"c24","c":"c1","x":187.7,"y":62.2},{"p":"c","g":"c24","c":"c1","x":190.0,"y":61.4},{"p":"c","g":"c24","c":"c1","x":191.9,"y":64.0},{"p":"c","g":"c24","c":"c1","x":192.1,"y":68.7},{"p":"c","g":"c24","c":"c1","x":188.7,"y":68.7},{"p":"c","g":"c24","c":"c1","x":185.8,"y":69.6},{"p":"c","g":"c24","c":"c1","x":180.2,"y":70.1},{"p":"c","g":"c24","c":"c1","x":175.5,"y":70.8},{"p":"c","g":"c24","c":"c1","x":172.3,"y":72.2},{"p":"c","g":"c24","c":"c1","x":171.1,"y":75.8},{"p":"c","g":"c24","c":"c1","x":170.8,"y":80},
      {"p":"c","g":"c25","c":"c1","x":164.2,"y":80},{"p":"c","g":"c25","c":"c1","x":165.1,"y":78.7},{"p":"c","g":"c25","c":"c1","x":166.6,"y":78.3},{"p":"c","g":"c25","c":"c1","x":167.4,"y":80},
      {"p":"c","g":"c31","c":"c-1","x":126.0,"y":55.1},{"p":"c","g":"c31","c":"c-1","x":126.2,"y":49.8},{"p":"c","g":"c31","c":"c-1","x":126.8,"y":45.7},{"p":"c","g":"c31","c":"c-1","x":128.3,"y":43.9},{"p":"c","g":"c31","c":"c-1","x":130.8,"y":44.5},{"p":"c","g":"c31","c":"c-1","x":134.0,"y":45.1},{"p":"c","g":"c31","c":"c-1","x":135.8,"y":46.3},{"p":"c","g":"c31","c":"c-1","x":136.8,"y":51.0},{"p":"c","g":"c31","c":"c-1","x":137.2,"y":56.9},{"p":"c","g":"c31","c":"c-1","x":136.4,"y":62.2},{"p":"c","g":"c31","c":"c-1","x":134.5,"y":64.5},{"p":"c","g":"c31","c":"c-1","x":132.1,"y":64.7},{"p":"c","g":"c31","c":"c-1","x":129.2,"y":64.0},{"p":"c","g":"c31","c":"c-1","x":128.5,"y":63.0}
    ],
    "labels": [
      {"p":"a","x":120.0,"y":33.2,"t":"−4"},{"p":"a","x":130.8,"y":47.9,"t":"−3"},{"p":"a","x":143.4,"y":53.8,"t":"−2"},{"p":"a","x":153.8,"y":62.1,"t":"−1"},{"p":"a","x":177.9,"y":55.6,"t":"0"},
      {"p":"b","x":130.6,"y":47.8,"t":"−3"},{"p":"b","x":140.4,"y":55.5,"t":"−2"},{"p":"b","x":156.8,"y":61.4,"t":"−1"},{"p":"b","x":172.3,"y":58.1,"t":"0"},
      {"p":"c","x":130.8,"y":21.5,"t":"0"},{"p":"c","x":159.1,"y":51.3,"t":"1"},{"p":"c","x":126.2,"y":59.7,"t":"−1"},{"p":"c","x":143.2,"y":66.9,"t":"0"}
    ]
  },
  "vconcat": [
    {
      "title": "(a) Temperature anomaly: P1",
      "width": 408, "height": 226,
      "layer": [
        {
          "data": {"name": "lines"},
          "transform": [{"filter": "indexof(datum.p, 'a') >= 0"}],
          "mark": {"type": "line", "strokeWidth": 1.2},
          "encoding": {
            "x": {"field": "x", "type": "quantitative", "scale": {"domain": [1.3, 232.3], "nice": false, "zero": false},
              "axis": {"orient": "bottom", "title": null, "values": [13.6, 30, 43.6, 61, 75.3, 92, 106.4, 122, 137, 153, 167, 183, 197.6, 214, 227.6],
                "labelExpr": "indexof([13.6,43.6,75.3,106.4,137,167,197.6,227.6], datum.value) >= 0 ? ['J','J','A','S','O','N','D','J'][indexof([13.6,43.6,75.3,106.4,137,167,197.6,227.6], datum.value)] : ''",
                "tickOpacity": {"condition": {"test": "indexof([30,61,92,122,153,183,214], datum.value) >= 0", "value": 1}, "value": 0},
                "labelPadding": 7.5, "labelFontSize": 24}},
            "y": {"field": "y", "type": "quantitative", "scale": {"domain": [0, 80], "reverse": true, "nice": false, "zero": false},
              "axis": {"orient": "left", "title": "depth (m)", "values": [0, 20, 40, 60, 80], "labelPadding": 13, "titlePadding": 9}},
            "detail": {"field": "g"},
            "color": {"field": "c", "type": "nominal", "legend": null,
              "scale": {"domain": ["0", "-1", "-2", "-3", "-4", "c0", "c1", "c-1"], "range": ["#ff5a1f", "#f2f200", "#12e4f2", "#2067ee", "#2b2ba3", "#6fea7c", "#b31b1b", "#2140b4"]}},
            "order": {"value": null}
          }
        },
        {
          "data": {"name": "labels"},
          "transform": [{"filter": "datum.p == 'a'"}],
          "mark": {"type": "text", "fontSize": 24, "color": "#000", "align": "center", "baseline": "middle"},
          "encoding": {
            "x": {"field": "x", "type": "quantitative", "axis": {"orient": "top", "title": null, "labels": false, "values": [30, 61, 92, 122, 153, 183, 214], "domainCap": "butt"}},
            "y": {"field": "y", "type": "quantitative", "axis": {"orient": "right", "title": null, "labels": false, "domain": false, "values": [20, 40, 60]}},
            "text": {"field": "t"}
          }
        }
      ],
      "resolve": {"axis": {"x": "independent", "y": "independent"}}
    },
    {
      "title": "(b) Temperature anomaly: P2",
      "width": 408, "height": 226,
      "layer": [
        {
          "data": {"name": "lines"},
          "transform": [{"filter": "indexof(datum.p, 'b') >= 0"}],
          "mark": {"type": "line", "strokeWidth": 1.2},
          "encoding": {
            "x": {"field": "x", "type": "quantitative", "scale": {"domain": [1.3, 232.3], "nice": false, "zero": false},
              "axis": {"orient": "bottom", "title": null, "values": [13.6, 30, 43.6, 61, 75.3, 92, 106.4, 122, 137, 153, 167, 183, 197.6, 214, 227.6],
                "labelExpr": "indexof([13.6,43.6,75.3,106.4,137,167,197.6,227.6], datum.value) >= 0 ? ['J','J','A','S','O','N','D','J'][indexof([13.6,43.6,75.3,106.4,137,167,197.6,227.6], datum.value)] : ''",
                "tickOpacity": {"condition": {"test": "indexof([30,61,92,122,153,183,214], datum.value) >= 0", "value": 1}, "value": 0},
                "labelPadding": 7.5, "labelFontSize": 24}},
            "y": {"field": "y", "type": "quantitative", "scale": {"domain": [0, 80], "reverse": true, "nice": false, "zero": false},
              "axis": {"orient": "left", "title": "depth (m)", "values": [0, 20, 40, 60, 80], "labelPadding": 13, "titlePadding": 9}},
            "detail": {"field": "g"},
            "color": {"field": "c", "type": "nominal", "legend": null,
              "scale": {"domain": ["0", "-1", "-2", "-3", "-4", "c0", "c1", "c-1"], "range": ["#ff5a1f", "#f2f200", "#12e4f2", "#2067ee", "#2b2ba3", "#6fea7c", "#b31b1b", "#2140b4"]}},
            "order": {"value": null}
          }
        },
        {
          "data": {"name": "labels"},
          "transform": [{"filter": "datum.p == 'b'"}],
          "mark": {"type": "text", "fontSize": 24, "color": "#000", "align": "center", "baseline": "middle"},
          "encoding": {
            "x": {"field": "x", "type": "quantitative", "axis": {"orient": "top", "title": null, "labels": false, "values": [30, 61, 92, 122, 153, 183, 214], "domainCap": "butt"}},
            "y": {"field": "y", "type": "quantitative", "axis": {"orient": "right", "title": null, "labels": false, "domain": false, "values": [20, 40, 60]}},
            "text": {"field": "t"}
          }
        }
      ],
      "resolve": {"axis": {"x": "independent", "y": "independent"}}
    },
    {
      "title": "(c) Temperature anomaly:P3",
      "width": 408, "height": 226,
      "layer": [
        {
          "data": {"name": "lines"},
          "transform": [{"filter": "indexof(datum.p, 'c') >= 0"}],
          "mark": {"type": "line", "strokeWidth": 1.2},
          "encoding": {
            "x": {"field": "x", "type": "quantitative", "scale": {"domain": [1.3, 232.3], "nice": false, "zero": false},
              "axis": {"orient": "bottom", "title": null, "values": [13.6, 30, 43.6, 61, 75.3, 92, 106.4, 122, 137, 153, 167, 183, 197.6, 214, 227.6],
                "labelExpr": "indexof([13.6,43.6,75.3,106.4,137,167,197.6,227.6], datum.value) >= 0 ? ['J','J','A','S','O','N','D','J'][indexof([13.6,43.6,75.3,106.4,137,167,197.6,227.6], datum.value)] : ''",
                "tickOpacity": {"condition": {"test": "indexof([30,61,92,122,153,183,214], datum.value) >= 0", "value": 1}, "value": 0},
                "labelPadding": 7.5, "labelFontSize": 24}},
            "y": {"field": "y", "type": "quantitative", "scale": {"domain": [0, 80], "reverse": true, "nice": false, "zero": false},
              "axis": {"orient": "left", "title": "depth (m)", "values": [0, 20, 40, 60, 80], "labelPadding": 13, "titlePadding": 9}},
            "detail": {"field": "g"},
            "color": {"field": "c", "type": "nominal", "legend": null,
              "scale": {"domain": ["0", "-1", "-2", "-3", "-4", "c0", "c1", "c-1"], "range": ["#ff5a1f", "#f2f200", "#12e4f2", "#2067ee", "#2b2ba3", "#6fea7c", "#b31b1b", "#2140b4"]}},
            "order": {"value": null}
          }
        },
        {
          "data": {"name": "labels"},
          "transform": [{"filter": "datum.p == 'c'"}],
          "mark": {"type": "text", "fontSize": 24, "color": "#000", "align": "center", "baseline": "middle"},
          "encoding": {
            "x": {"field": "x", "type": "quantitative", "axis": {"orient": "top", "title": null, "labels": false, "values": [30, 61, 92, 122, 153, 183, 214], "domainCap": "butt"}},
            "y": {"field": "y", "type": "quantitative", "axis": {"orient": "right", "title": null, "labels": false, "domain": false, "values": [20, 40, 60]}},
            "text": {"field": "t"}
          }
        }
      ],
      "resolve": {"axis": {"x": "independent", "y": "independent"}}
    }
  ]
}
